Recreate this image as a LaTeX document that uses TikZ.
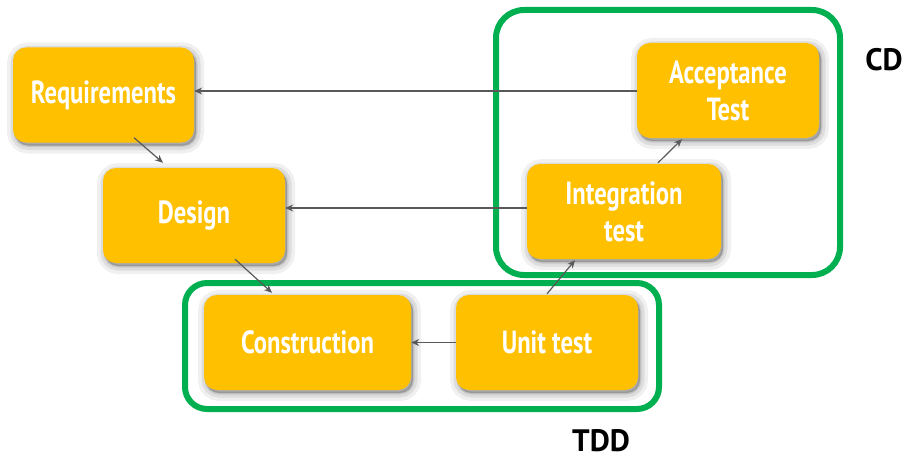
\documentclass[tikz,border=0pt]{standalone}
\usepackage{fontspec}
\newfontfamily\handfont[FakeStretch=0.77]{PT Sans}
\newfontfamily\labelfont{PT Sans}
\usetikzlibrary{arrows.meta}
\definecolor{boxorange}{HTML}{FFC000}
\definecolor{groupgreen}{HTML}{00B050}
\definecolor{arrowgrey}{HTML}{595959}
\tikzset{
  softshadow/.style={
    preaction={draw=black, fill=black, opacity=0.06, line width=16pt, transform canvas={shift={(2pt,-3pt)}}},
    preaction={draw=black, fill=black, opacity=0.08, line width=9pt, transform canvas={shift={(2pt,-3pt)}}},
    preaction={draw=black, fill=black, opacity=0.10, line width=3pt, transform canvas={shift={(2pt,-3pt)}}}
  },
  stagebox/.style={softshadow, fill=boxorange, draw=none, rounded corners=13pt,
    text=white, font=\handfont\bfseries\fontsize{32}{37}\selectfont, align=center,
    inner sep=0pt, minimum height=95pt},
  groupbox/.style={draw=groupgreen, line width=6pt, rounded corners=#1, inner sep=0pt},
  grouplabel/.style={text=black, font=\labelfont\bfseries\fontsize{31}{34}\selectfont},
  arr/.style={draw=arrowgrey, line width=1.2pt, -{Stealth[length=8pt,width=7pt]}}
}
\begin{document}
\begin{tikzpicture}[x=1pt,y=-1pt]
\useasboundingbox[fill=white] (0,0) rectangle (912,460);
% group frames
\node[groupbox=28pt, minimum width=344pt, minimum height=265pt] (cdbox) at (668,142.5) {};
\node[groupbox=22pt, minimum width=474pt, minimum height=126pt] (tddbox) at (422,346) {};
% stages
\node[stagebox, minimum width=181pt] (req) at (103.5,95) {Requirements};
\node[stagebox, minimum width=182pt] (des) at (194,215.5) {Design};
\node[stagebox, minimum width=182pt] (acc) at (728,90.5) {Acceptance\\Test};
\node[stagebox, minimum width=194pt] (int) at (624,211.5) {Integration\\test};
\node[stagebox, minimum width=207pt] (con) at (307.5,342.5) {Construction};
\node[stagebox, minimum width=182pt] (unit) at (547,342.5) {Unit test};
% labels
\node[grouplabel] (cdlabel) at (884,60) {CD};
\node[grouplabel] (tddlabel) at (601,441) {TDD};
% connectors
\draw[arr] ([yshift=-0.5pt]acc.west) -- ([yshift=-0.5pt]acc.west -| req.east);
\draw[arr] ([yshift=3.5pt]int.west) -- ([yshift=3.5pt]int.west -| des.east);
\draw[arr] (unit.west) -- (unit.west -| con.east);
\draw[arr] ([xshift=30.5pt,yshift=5pt]req.south) -- ([xshift=-31pt,yshift=5pt]des.north);
\draw[arr] ([xshift=41pt,yshift=4pt]des.south) -- ([xshift=-35.5pt,yshift=2pt]con.north);
\draw[arr] ([yshift=1pt]unit.north) -- ([xshift=-49pt,yshift=-1pt]int.south);
\draw[arr] ([xshift=34pt,yshift=1pt]int.north) -- ([xshift=-46pt,yshift=-1pt]acc.south);
\end{tikzpicture}
\end{document}
